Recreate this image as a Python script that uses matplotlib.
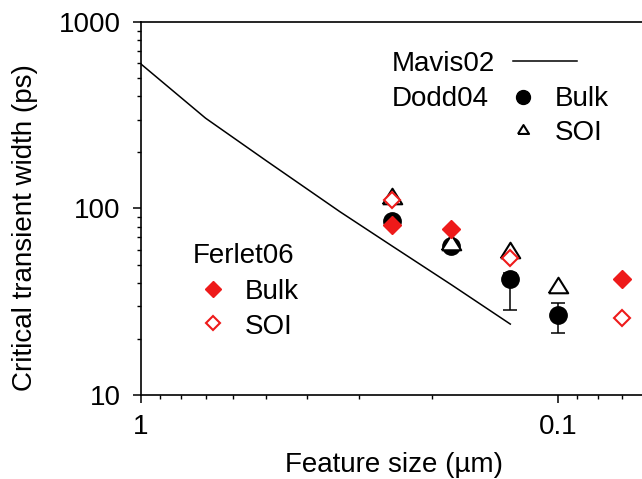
import matplotlib
matplotlib.use('Agg')
import matplotlib.pyplot as plt

plt.rcParams['font.family'] = ['Liberation Sans', 'DejaVu Sans']

red = '#ee1a1a'
tri = [(-1, -0.8), (1, -0.8), (0, 0.8), (-1, -0.8)]  # wide open triangle

# Mavis02 model curve
mavis_x = [1.0, 0.7, 0.5, 0.333, 0.25, 0.18, 0.13]
mavis_y = [595, 305, 180, 96, 63, 39, 24]

# Dodd04 data
dodd_x = [0.25, 0.18, 0.13, 0.1]
dodd_bulk = [86, 63, 42, 27]
dodd_bulk_lo = [86, 59, 28.5, 21.5]
dodd_bulk_hi = [86, 66, 45, 31]
dodd_soi = [117, 66, 60, 39]

# Ferlet06 data
ferlet_bulk_x = [0.25, 0.18, 0.07]
ferlet_bulk = [82, 77.5, 42]
ferlet_soi_x = [0.25, 0.13, 0.07]
ferlet_soi = [111, 54, 26]

fig = plt.figure(figsize=(6.42, 4.79), dpi=100)
ax = fig.add_axes([0.2196, 0.1754, 0.7804, 0.7787])

ax.plot(mavis_x, mavis_y, color='black', lw=1.1, zorder=2)

err = [[b - lo for b, lo in zip(dodd_bulk, dodd_bulk_lo)],
       [hi - b for b, hi in zip(dodd_bulk, dodd_bulk_hi)]]
ax.errorbar(dodd_x, dodd_bulk, yerr=err, fmt='o', color='black', ms=12.5,
            ecolor='black', elinewidth=1.1, capsize=4.7, capthick=1.1,
            zorder=3)
ax.plot(dodd_x, dodd_soi, ls='none', marker=tri, ms=14, mfc='white',
        mec='black', mew=1.5, zorder=4)
ax.plot(ferlet_bulk_x, ferlet_bulk, 'D', ls='none', ms=9.5, color=red,
        mec=red, zorder=5)
ax.plot(ferlet_soi_x, ferlet_soi, 'D', ls='none', ms=8.5, mfc='white',
        mec=red, mew=1.5, zorder=6)

ax.set_xscale('log')
ax.set_yscale('log')
ax.set_xlim(1, 0.0628)
ax.set_ylim(10, 1000)
ax.set_xticks([1, 0.1])
ax.set_xticklabels(['1', '0.1'])
ax.set_yticks([10, 100, 1000])
ax.set_yticklabels(['10', '100', '1000'])

ax.spines['right'].set_visible(False)
for s in ['left', 'bottom', 'top']:
    ax.spines[s].set_linewidth(1.2)
ax.tick_params(which='major', direction='out', length=5.5, width=1.1,
               labelsize=20)
ax.tick_params(which='minor', direction='out', length=3, width=1.0)
ax.tick_params(axis='y', which='major', pad=9)
ax.tick_params(axis='x', which='major', pad=8)
ax.tick_params(axis='x', which='both', top=False)

ax.set_xlabel('Feature size (µm)', fontsize=20)
ax.set_ylabel('Critical transient width (ps)', fontsize=20)
ax.xaxis.set_label_coords(0.505, -0.152)
ax.yaxis.set_label_coords(-0.2056, 0.449)

# legend, top right
tr = ax.transAxes
fs = 20
ax.text(0.500, 0.8694, 'Mavis02', transform=tr, fontsize=fs, va='baseline')
ax.plot([0.7425, 0.870], [0.8954, 0.8954], color='black', lw=1.1,
        transform=tr, clip_on=False)
ax.text(0.500, 0.7748, 'Dodd04', transform=tr, fontsize=fs, va='baseline')
ax.plot([0.7625], [0.799], 'o', ms=10, color='black', transform=tr)
ax.text(0.826, 0.7748, 'Bulk', transform=tr, fontsize=fs, va='baseline')
ax.plot([0.7625], [0.7122], ls='none', marker=tri, ms=8, mfc='white',
        mec='black', mew=1.5, transform=tr)
ax.text(0.826, 0.6836, 'SOI', transform=tr, fontsize=fs, va='baseline')

# legend, left
ax.text(0.1038, 0.3531, 'Ferlet06', transform=tr, fontsize=fs, va='baseline')
ax.plot([0.1437], [0.284], 'D', ms=8.5, color=red, transform=tr)
ax.text(0.207, 0.2574, 'Bulk', transform=tr, fontsize=fs, va='baseline')
ax.plot([0.1437], [0.193], 'D', ms=7.5, mfc='white', mec=red, mew=1.5,
        transform=tr)
ax.text(0.207, 0.1635, 'SOI', transform=tr, fontsize=fs, va='baseline')

fig.savefig('out.png', dpi=100)
